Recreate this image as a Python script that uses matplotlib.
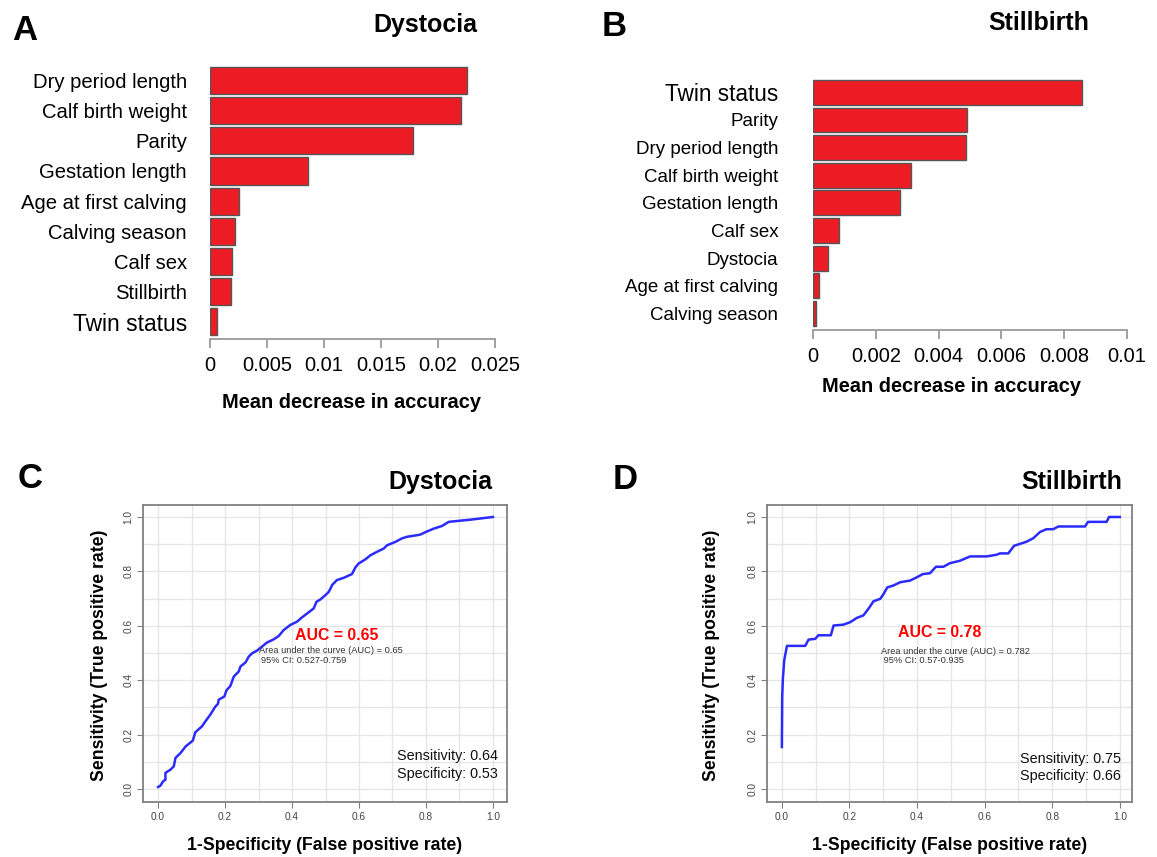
import numpy as np
import matplotlib.pyplot as plt

plt.rcParams['font.family'] = ['Liberation Sans', 'DejaVu Sans']

# Datos de importancia de variables (Mean decrease in accuracy)
dys_features = ["Dry period length", "Calf birth weight", "Parity", "Gestation length",
                "Age at first calving", "Calving season", "Calf sex", "Stillbirth", "Twin status"]
dys_mda = [0.02257, 0.02205, 0.01777, 0.00862, 0.00253, 0.00217, 0.00195, 0.00185, 0.0006]
dys_ticks = [0, 0.005, 0.01, 0.015, 0.02, 0.025]
dys_ticklabels = ["0", "0.005", "0.01", "0.015", "0.02", "0.025"]

still_features = ["Twin status", "Parity", "Dry period length", "Calf birth weight",
                  "Gestation length", "Calf sex", "Dystocia", "Age at first calving", "Calving season"]
still_mda = [0.00856, 0.00489, 0.00488, 0.00312, 0.00278, 0.00084, 0.00048, 0.0002, 0.0001]
still_ticks = [0, 0.002, 0.004, 0.006, 0.008, 0.01]
still_ticklabels = ["0", "0.002", "0.004", "0.006", "0.008", "0.01"]

# Curvas ROC
roc_c_fpr = [0.0, 0.007, 0.015, 0.022, 0.022, 0.037, 0.047, 0.052, 0.067, 0.082, 0.097, 0.104,
             0.111, 0.131, 0.141, 0.156, 0.171, 0.179, 0.181, 0.198, 0.204, 0.216, 0.226, 0.241,
             0.246, 0.261, 0.271, 0.281, 0.296, 0.31, 0.325, 0.345, 0.36, 0.375, 0.395, 0.415,
             0.43, 0.445, 0.465, 0.473, 0.485, 0.5, 0.51, 0.52, 0.534, 0.554, 0.579, 0.589,
             0.599, 0.619, 0.634, 0.654, 0.674, 0.684, 0.708, 0.728, 0.743, 0.783, 0.798, 0.823,
             0.848, 0.868, 0.883, 0.933, 1.0]
roc_c_tpr = [0.007, 0.012, 0.028, 0.034, 0.059, 0.071, 0.083, 0.114, 0.132, 0.156, 0.171, 0.178,
             0.208, 0.23, 0.248, 0.273, 0.303, 0.313, 0.328, 0.34, 0.362, 0.379, 0.413, 0.432,
             0.45, 0.465, 0.487, 0.499, 0.509, 0.523, 0.538, 0.55, 0.562, 0.584, 0.603, 0.615,
             0.631, 0.645, 0.664, 0.688, 0.697, 0.713, 0.725, 0.75, 0.768, 0.776, 0.79, 0.814,
             0.829, 0.844, 0.859, 0.872, 0.884, 0.896, 0.908, 0.921, 0.927, 0.935, 0.944, 0.957,
             0.967, 0.982, 0.984, 0.99, 1.0]

roc_d_fpr = [0.0, 0.001, 0.003, 0.007, 0.015, 0.069, 0.079, 0.099, 0.108, 0.145, 0.153, 0.182,
             0.202, 0.222, 0.241, 0.256, 0.271, 0.291, 0.3, 0.312, 0.33, 0.35, 0.379, 0.399,
             0.417, 0.438, 0.456, 0.478, 0.497, 0.527, 0.557, 0.606, 0.635, 0.645, 0.67, 0.687,
             0.724, 0.744, 0.764, 0.783, 0.803, 0.818, 0.897, 0.906, 0.961, 0.968, 1.0]
roc_d_tpr = [0.154, 0.339, 0.406, 0.473, 0.526, 0.526, 0.549, 0.552, 0.565, 0.565, 0.601, 0.604,
             0.613, 0.629, 0.638, 0.662, 0.69, 0.699, 0.715, 0.741, 0.748, 0.76, 0.766, 0.778,
             0.79, 0.793, 0.817, 0.817, 0.83, 0.839, 0.855, 0.855, 0.861, 0.866, 0.866, 0.894,
             0.909, 0.922, 0.945, 0.955, 0.955, 0.965, 0.965, 0.982, 0.982, 1.0, 1.0]

W, H = 1157, 857
fig = plt.figure(figsize=(W / 100, H / 100), dpi=100)


def px_axes(left, top, right, bottom):
    return fig.add_axes([left / W, 1 - bottom / H, (right - left) / W, (bottom - top) / H])


def ftext(x, y, s, **kw):
    fig.text(x / W, 1 - y / H, s, **kw)


def barras(ax, features, values, ticks, ticklabels, ylo, pad):
    pos = np.arange(len(features))[::-1]
    ax.barh(pos, values, height=0.9, color='#ED1C24', edgecolor='#555555', linewidth=1.0)
    ax.set_xlim(ticks[0], ticks[-1])
    ax.set_ylim(ylo, len(features) - 0.5)
    for s in ['top', 'right', 'left']:
        ax.spines[s].set_visible(False)
    ax.spines['bottom'].set_color('#9a9a9a')
    ax.spines['bottom'].set_linewidth(1.3)
    ax.spines['bottom'].set_bounds(ticks[0], ticks[-1])
    ax.set_xticks(ticks)
    ax.set_xticklabels(ticklabels, fontsize=14.4)
    ax.tick_params(axis='x', length=6.5, width=1.3, color='#9a9a9a', pad=6)
    ax.set_yticks(pos)
    ax.set_yticklabels(features, fontsize=14.6)
    ax.tick_params(axis='y', length=0, pad=pad)
    for lab in ax.get_yticklabels():
        if lab.get_text() == "Twin status":
            lab.set_fontsize(16.4)


# Panel A
axA = px_axes(210, 65.4, 495, 339)
barras(axA, dys_features, dys_mda, dys_ticks, dys_ticklabels, -0.574, 16.5)
ftext(25, 30, "A", fontsize=25, fontweight='bold', ha='center', va='center')
ftext(425, 25, "Dystocia", fontsize=18, fontweight='bold', ha='center', va='center')
ftext(352, 403, "Mean decrease in accuracy", fontsize=14.4, fontweight='bold', ha='center', va='center')

# Panel B
axB = px_axes(813, 78.5, 1127, 330)
barras(axB, still_features, still_mda, still_ticks, still_ticklabels, -0.597, 25)
for lab in axB.get_yticklabels():
    lab.set_fontsize(16.3 if lab.get_text() == "Twin status" else 13.5)
ftext(614, 27, "B", fontsize=25, fontweight='bold', ha='center', va='center')
ftext(1039, 23, "Stillbirth", fontsize=18, fontweight='bold', ha='center', va='center')
ftext(952, 387, "Mean decrease in accuracy", fontsize=14.4, fontweight='bold', ha='center', va='center')


def roc(ax, fpr, tpr, xlim, auc, area_txt, ci_txt, auc_pos, area_pos, ci_pos, sens_txt, spec_txt, sens_pos, spec_pos):
    ax.set_xlim(*xlim)
    ax.set_ylim(-0.048, 1.044)
    grid = np.arange(0, 1.01, 0.1)
    for g in grid:
        ax.axvline(g, color='#e6e6e6', lw=1.0, zorder=0)
        ax.axhline(g, color='#e6e6e6', lw=1.0, zorder=0)
    ax.plot(fpr, tpr, color='#2b2bff', lw=1.8, zorder=3)
    for s in ax.spines.values():
        s.set_color('#808080')
        s.set_linewidth(1.3)
    t = np.arange(0, 1.01, 0.2)
    ax.set_xticks(t)
    ax.set_yticks(t)
    ax.set_xticklabels([f"{v:.1f}" for v in t], fontsize=7.3, color='#444444')
    ax.set_yticklabels([f"{v:.1f}" for v in t], fontsize=7.3, color='#444444', rotation=90, va='center')
    ax.tick_params(length=4, width=0.8, color='#808080', pad=3)
    ax.text(auc_pos[0], auc_pos[1], auc, color='red', fontsize=11.4, fontweight='bold', ha='center', va='center')
    ax.text(area_pos[0], area_pos[1], area_txt, color='#333333', fontsize=6.65, ha='left', va='center')
    ax.text(ci_pos[0], ci_pos[1], ci_txt, color='#333333', fontsize=6.65, ha='left', va='center')
    ax.text(sens_pos[0], sens_pos[1], sens_txt, color='#111111', fontsize=10.4, ha='left', va='center')
    ax.text(spec_pos[0], spec_pos[1], spec_txt, color='#111111', fontsize=10.4, ha='left', va='center')


# Panel C
axC = px_axes(143, 505, 507, 802)
roc(axC, roc_c_fpr, roc_c_tpr, (-0.045, 1.042), "AUC = 0.65",
    "Area under the curve (AUC) = 0.65", "95% CI: 0.527-0.759",
    (0.532, 0.566), (0.30, 0.508), (0.307, 0.472),
    "Sensitivity: 0.64", "Specificity: 0.53", (0.713, 0.12), (0.713, 0.056))
ftext(30, 478, "C", fontsize=25, fontweight='bold', ha='center', va='center')
ftext(440, 482, "Dystocia", fontsize=18, fontweight='bold', ha='center', va='center')
ftext(325, 846, "1-Specificity (False positive rate)", fontsize=12.7, fontweight='bold', ha='center', va='center')
ftext(100, 655, "Sensitivity (True positive rate)", fontsize=12.7, fontweight='bold', ha='center', va='center', rotation=90)

# Panel D
axD = px_axes(767, 505, 1132, 802)
roc(axD, roc_d_fpr, roc_d_tpr, (-0.044, 1.036), "AUC = 0.78",
    "Area under the curve (AUC) = 0.782", " 95% CI: 0.57-0.935",
    (0.466, 0.574), (0.293, 0.507), (0.293, 0.472),
    "Sensitivity: 0.75", "Specificity: 0.66", (0.704, 0.11), (0.704, 0.049))
ftext(625, 480, "D", fontsize=25, fontweight='bold', ha='center', va='center')
ftext(1072, 482, "Stillbirth", fontsize=18, fontweight='bold', ha='center', va='center')
ftext(950, 846, "1-Specificity (False positive rate)", fontsize=12.7, fontweight='bold', ha='center', va='center')
ftext(712, 655, "Sensitivity (True positive rate)", fontsize=12.7, fontweight='bold', ha='center', va='center', rotation=90)

fig.savefig("out.png", dpi=100)
